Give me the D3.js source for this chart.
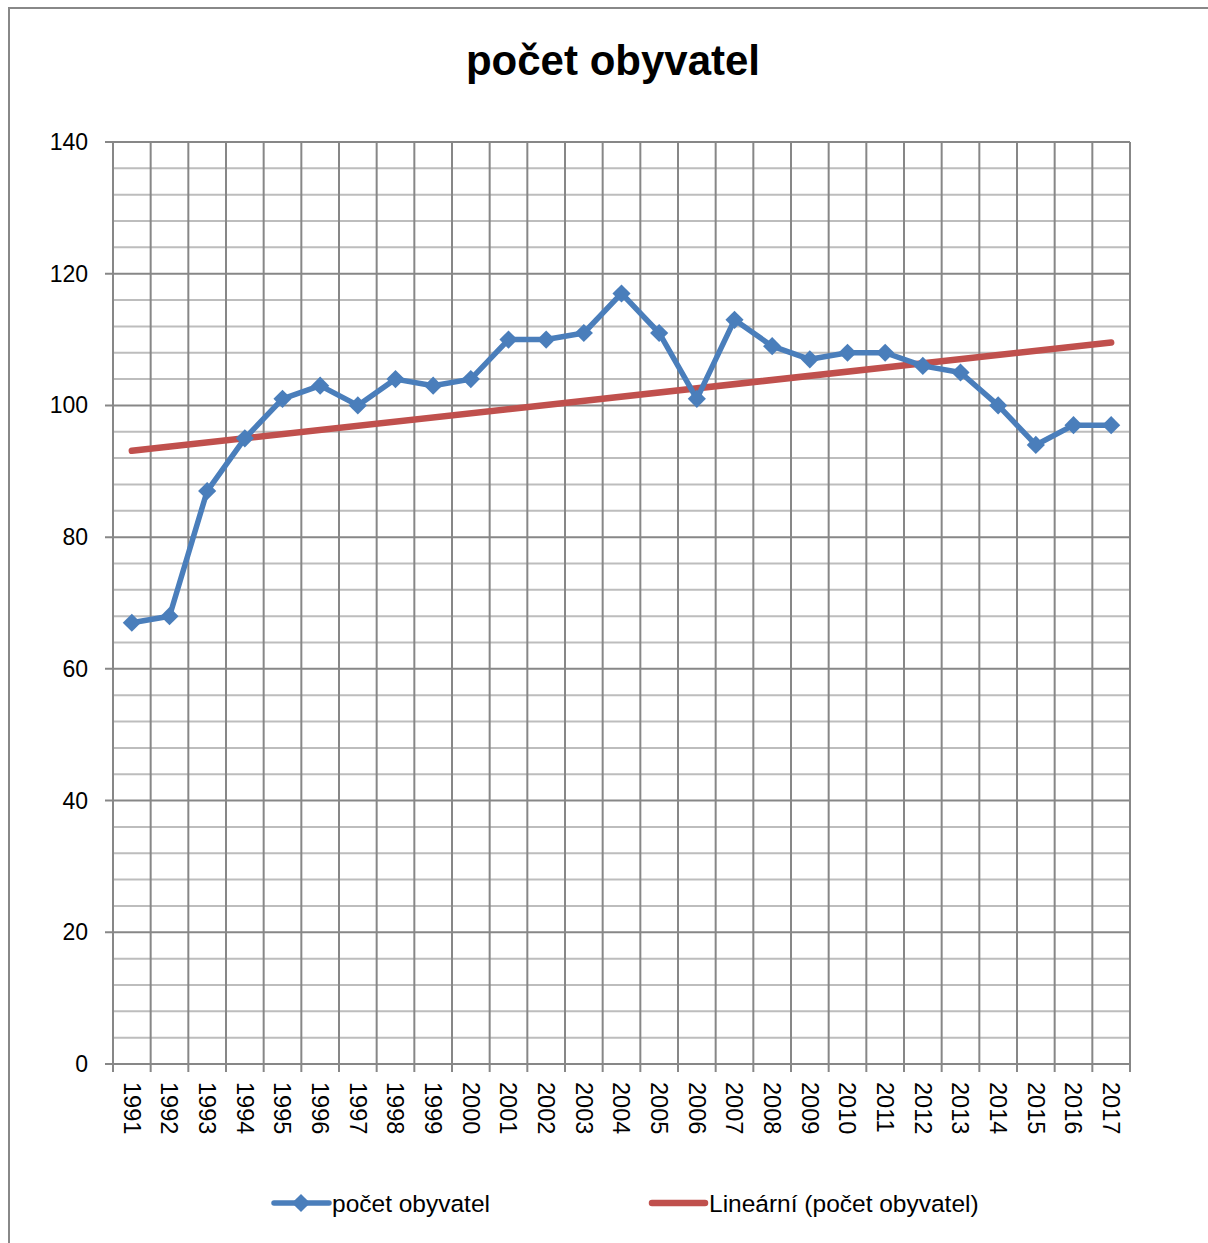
<!DOCTYPE html>
<html><head><meta charset="utf-8">
<script src="https://cdn.jsdelivr.net/npm/d3@7"></script>
<style>body{margin:0;background:#fff}svg{display:block}</style>
</head><body>
<svg id="c" width="1208" height="1243"></svg>
<script>
const years = ["1991","1992","1993","1994","1995","1996","1997","1998","1999","2000","2001","2002","2003","2004","2005","2006","2007","2008","2009","2010","2011","2012","2013","2014","2015","2016","2017"];
const population = [67,68,87,95,101,103,100,104,103,104,110,110,111,117,111,101,113,109,107,108,108,106,105,100,94,97,97];
const yTicks = [0,20,40,60,80,100,120,140];
const title = "počet obyvatel";
const seriesName = "počet obyvatel";
const trendName = "Lineární (počet obyvatel)";

const svg = d3.select("#c");
const font = "'Liberation Sans', Arial, sans-serif";
const L=113, R=1130, T=142, B=1064;

svg.append("rect").attr("x",9).attr("y",8).attr("width",1250).attr("height",1300)
  .attr("fill","#fff").attr("stroke","#888").attr("stroke-width",2);

svg.append("text").attr("x",613).attr("y",75).attr("text-anchor","middle")
  .attr("font-family",font).attr("font-weight","bold").attr("font-size",42).attr("fill","#000").text(title);

const x = d3.scaleBand().domain(years).range([L,R]).padding(0);
const y = d3.scaleLinear().domain([0,140]).range([B,T]);

const g = svg.append("g");
d3.range(0,141,4).filter(v=>v%20!==0).forEach(v=>{
  g.append("line").attr("x1",L).attr("x2",R).attr("y1",y(v)).attr("y2",y(v))
   .attr("stroke","#bdbdbd").attr("stroke-width",2);
});
years.forEach((yr,i)=>{
  const xx = x(yr);
  if(i>0) g.append("line").attr("x1",xx).attr("x2",xx).attr("y1",T).attr("y2",B).attr("stroke","#878787").attr("stroke-width",2);
});
g.append("line").attr("x1",R).attr("x2",R).attr("y1",T).attr("y2",B).attr("stroke","#878787").attr("stroke-width",2);
yTicks.forEach(v=>{
  g.append("line").attr("x1",L-8).attr("x2",R).attr("y1",y(v)).attr("y2",y(v))
   .attr("stroke","#878787").attr("stroke-width",2);
});
g.append("line").attr("x1",L).attr("x2",L).attr("y1",T).attr("y2",B+8).attr("stroke","#878787").attr("stroke-width",2);
years.forEach((yr,i)=>{
  g.append("line").attr("x1",x(yr)+x.bandwidth()).attr("x2",x(yr)+x.bandwidth()).attr("y1",B).attr("y2",B+8).attr("stroke","#878787").attr("stroke-width",2);
});

yTicks.forEach(v=>{
  svg.append("text").attr("x",88).attr("y",y(v)).attr("dy","0.35em").attr("text-anchor","end")
    .attr("font-family",font).attr("font-size",23).attr("fill","#000").text(v);
});
years.forEach(yr=>{
  const cx = x(yr)+x.bandwidth()/2;
  svg.append("text").attr("transform",`translate(${cx},1082) rotate(90)`)
    .attr("dy","0.35em").attr("text-anchor","start")
    .attr("font-family",font).attr("font-size",23.5).attr("fill","#000").text(yr);
});

const n = population.length;
const xm = d3.mean(d3.range(n)), ym = d3.mean(population);
const slope = d3.sum(d3.range(n), i=>(i-xm)*(population[i]-ym)) / d3.sum(d3.range(n), i=>(i-xm)**2);
const icpt = ym - slope*xm;
const cx = i => x(years[i]) + x.bandwidth()/2;
svg.append("line").attr("x1",cx(0)).attr("y1",y(icpt)).attr("x2",cx(n-1)).attr("y2",y(icpt+slope*(n-1)))
  .attr("stroke","#c0504d").attr("stroke-width",6.5).attr("stroke-linecap","round");

const line = d3.line().x((d,i)=>cx(i)).y(d=>y(d));
svg.append("path").datum(population).attr("d",line).attr("fill","none")
  .attr("stroke","#4a7ebb").attr("stroke-width",5.5).attr("stroke-linejoin","round");
const sq = d3.symbol().type(d3.symbolSquare).size(165)();
svg.selectAll(".pt").data(population).enter().append("path")
  .attr("transform",(d,i)=>`translate(${cx(i)},${y(d)}) rotate(45)`)
  .attr("d",sq).attr("fill","#4a7ebb");

const ly = 1203;
svg.append("line").attr("x1",274).attr("x2",329).attr("y1",ly).attr("y2",ly).attr("stroke","#4a7ebb").attr("stroke-width",5.5).attr("stroke-linecap","round");
svg.append("path").attr("transform",`translate(301,${ly}) rotate(45)`).attr("d",sq).attr("fill","#4a7ebb");
svg.append("text").attr("x",332).attr("y",ly).attr("dy","0.35em").attr("font-family",font).attr("font-size",24.5).attr("fill","#000").text(seriesName);
svg.append("line").attr("x1",652).attr("x2",705).attr("y1",ly).attr("y2",ly).attr("stroke","#c0504d").attr("stroke-width",6.5).attr("stroke-linecap","round");
svg.append("text").attr("x",709).attr("y",ly).attr("dy","0.35em").attr("font-family",font).attr("font-size",24.5).attr("fill","#000").text(trendName);
</script>
</body></html>
